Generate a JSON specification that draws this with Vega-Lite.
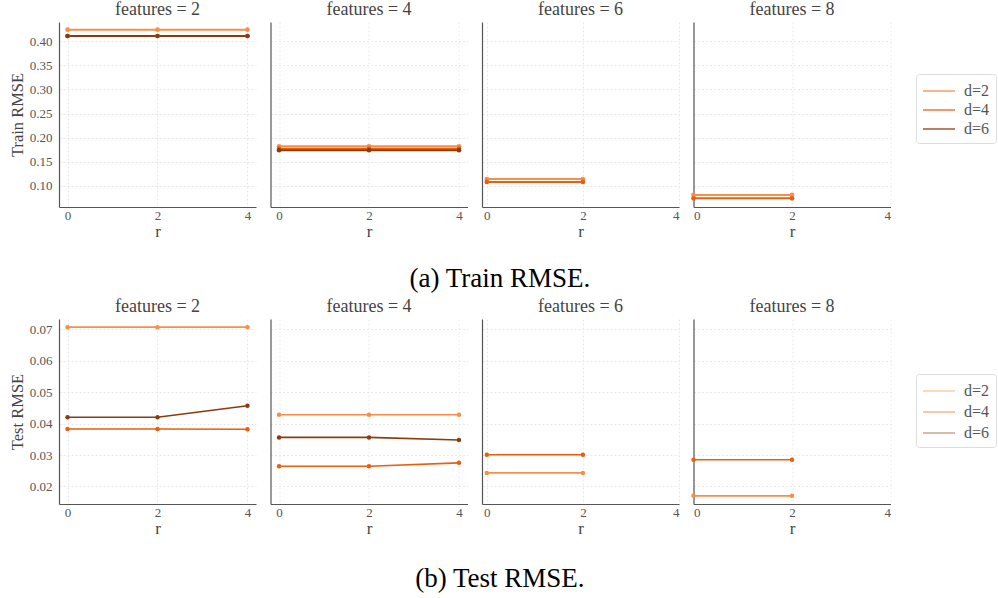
{
  "$schema": "https://vega.github.io/schema/vega-lite/v6.json",
  "padding": {"left": 9, "top": 1, "right": 5, "bottom": 5},
  "config": {
    "font": "Liberation Serif",
    "view": {"stroke": null},
    "axis": {
      "labelFont": "Liberation Serif", "labelFontSize": 13, "labelColor": "#555555",
      "titleFont": "Liberation Serif", "titleFontSize": 16.5, "titleFontWeight": "normal", "titleColor": "#444444",
      "domainColor": "#555555", "domainWidth": 1.2, "ticks": false, "labelPadding": 7,
      "gridColor": "#e3e3e3", "gridDash": [2, 2], "gridWidth": 0.8
    },
    "axisX": {"labelPadding": 2, "titlePadding": 1, "titleFontSize": 17},
    "title": {"font": "Liberation Serif", "fontWeight": "normal", "fontSize": 18, "color": "#444444", "offset": 3},
    "legend": {
      "title": null, "labelFont": "Liberation Serif", "labelFontSize": 16, "labelColor": "#555555",
      "symbolType": "M-1.6,0H1.6", "symbolSize": 400, "symbolStrokeWidth": 1.5, "symbolOffset": 6,
      "strokeColor": "#dddddd", "cornerRadius": 3, "fillColor": "white", "padding": 6,
      "rowPadding": 0, "labelOffset": 14
    }
  },
  "datasets": {
    "rows": [
      {"set": "train", "features": 2, "d": "d=2", "r": 0, "rmse": 0.424},
      {"set": "train", "features": 2, "d": "d=2", "r": 2, "rmse": 0.424},
      {"set": "train", "features": 2, "d": "d=2", "r": 4, "rmse": 0.424},
      {"set": "train", "features": 2, "d": "d=4", "r": 0, "rmse": 0.411},
      {"set": "train", "features": 2, "d": "d=4", "r": 2, "rmse": 0.411},
      {"set": "train", "features": 2, "d": "d=4", "r": 4, "rmse": 0.411},
      {"set": "train", "features": 2, "d": "d=6", "r": 0, "rmse": 0.411},
      {"set": "train", "features": 2, "d": "d=6", "r": 2, "rmse": 0.411},
      {"set": "train", "features": 2, "d": "d=6", "r": 4, "rmse": 0.411},
      {"set": "train", "features": 4, "d": "d=2", "r": 0, "rmse": 0.182},
      {"set": "train", "features": 4, "d": "d=2", "r": 2, "rmse": 0.182},
      {"set": "train", "features": 4, "d": "d=2", "r": 4, "rmse": 0.182},
      {"set": "train", "features": 4, "d": "d=4", "r": 0, "rmse": 0.177},
      {"set": "train", "features": 4, "d": "d=4", "r": 2, "rmse": 0.177},
      {"set": "train", "features": 4, "d": "d=4", "r": 4, "rmse": 0.177},
      {"set": "train", "features": 4, "d": "d=6", "r": 0, "rmse": 0.174},
      {"set": "train", "features": 4, "d": "d=6", "r": 2, "rmse": 0.174},
      {"set": "train", "features": 4, "d": "d=6", "r": 4, "rmse": 0.174},
      {"set": "train", "features": 6, "d": "d=2", "r": 0, "rmse": 0.114},
      {"set": "train", "features": 6, "d": "d=2", "r": 2, "rmse": 0.114},
      {"set": "train", "features": 6, "d": "d=4", "r": 0, "rmse": 0.108},
      {"set": "train", "features": 6, "d": "d=4", "r": 2, "rmse": 0.108},
      {"set": "train", "features": 8, "d": "d=2", "r": 0, "rmse": 0.081},
      {"set": "train", "features": 8, "d": "d=2", "r": 2, "rmse": 0.081},
      {"set": "train", "features": 8, "d": "d=4", "r": 0, "rmse": 0.074},
      {"set": "train", "features": 8, "d": "d=4", "r": 2, "rmse": 0.074},
      {"set": "test", "features": 2, "d": "d=2", "r": 0, "rmse": 0.0707},
      {"set": "test", "features": 2, "d": "d=2", "r": 2, "rmse": 0.0707},
      {"set": "test", "features": 2, "d": "d=2", "r": 4, "rmse": 0.0707},
      {"set": "test", "features": 2, "d": "d=4", "r": 0, "rmse": 0.0383},
      {"set": "test", "features": 2, "d": "d=4", "r": 2, "rmse": 0.0383},
      {"set": "test", "features": 2, "d": "d=4", "r": 4, "rmse": 0.0382},
      {"set": "test", "features": 2, "d": "d=6", "r": 0, "rmse": 0.0420},
      {"set": "test", "features": 2, "d": "d=6", "r": 2, "rmse": 0.0420},
      {"set": "test", "features": 2, "d": "d=6", "r": 4, "rmse": 0.0457},
      {"set": "test", "features": 4, "d": "d=2", "r": 0, "rmse": 0.0428},
      {"set": "test", "features": 4, "d": "d=2", "r": 2, "rmse": 0.0428},
      {"set": "test", "features": 4, "d": "d=2", "r": 4, "rmse": 0.0428},
      {"set": "test", "features": 4, "d": "d=4", "r": 0, "rmse": 0.0264},
      {"set": "test", "features": 4, "d": "d=4", "r": 2, "rmse": 0.0264},
      {"set": "test", "features": 4, "d": "d=4", "r": 4, "rmse": 0.0275},
      {"set": "test", "features": 4, "d": "d=6", "r": 0, "rmse": 0.0356},
      {"set": "test", "features": 4, "d": "d=6", "r": 2, "rmse": 0.0356},
      {"set": "test", "features": 4, "d": "d=6", "r": 4, "rmse": 0.0348},
      {"set": "test", "features": 6, "d": "d=2", "r": 0, "rmse": 0.0243},
      {"set": "test", "features": 6, "d": "d=2", "r": 2, "rmse": 0.0243},
      {"set": "test", "features": 6, "d": "d=4", "r": 0, "rmse": 0.0301},
      {"set": "test", "features": 6, "d": "d=4", "r": 2, "rmse": 0.0301},
      {"set": "test", "features": 8, "d": "d=2", "r": 0, "rmse": 0.0170},
      {"set": "test", "features": 8, "d": "d=2", "r": 2, "rmse": 0.0170},
      {"set": "test", "features": 8, "d": "d=4", "r": 0, "rmse": 0.0285},
      {"set": "test", "features": 8, "d": "d=4", "r": 2, "rmse": 0.0285}
    ]
  },
  "resolve": {"legend": {"color": "independent"}},
  "spacing": 6,
  "vconcat": [
    {
      "data": {"name": "rows"},
      "transform": [{"filter": "datum.set == 'train'"}],
      "title": {"text": "(a) Train RMSE.", "orient": "bottom", "anchor": "middle", "fontSize": 27, "color": "#000000", "offset": 27, "dx": -3},
      "spacing": 14.5,
      "bounds": "flush",
      "hconcat": [
        {
          "title": "features = 2", "width": 197, "height": 185,
          "transform": [{"filter": "datum.features == 2"}],
          "encoding": {
            "x": {"field": "r", "type": "quantitative", "scale": {"domain": [-0.19, 4.19], "nice": false, "zero": false}, "axis": {"values": [0, 2, 4], "format": "d", "title": "r"}},
            "y": {"field": "rmse", "type": "quantitative", "scale": {"domain": [0.056, 0.44], "nice": false, "zero": false}, "axis": {"values": [0.1, 0.15, 0.2, 0.25, 0.3, 0.35, 0.4], "format": ".2f", "title": "Train RMSE"}},
            "color": {"field": "d", "type": "nominal", "scale": {"domain": ["d=2", "d=4", "d=6"], "range": ["#f98e47", "#ea5f0e", "#8a3c0f"]}, "legend": {"orient": "none", "legendX": 857, "legendY": 52, "symbolOpacity": 0.85}}
          },
          "layer": [
            {"mark": {"type": "line", "strokeWidth": 2}},
            {"mark": {"type": "point", "filled": true, "size": 22, "opacity": 1}}
          ]
        },
        {
          "title": "features = 4", "width": 197, "height": 185,
          "transform": [{"filter": "datum.features == 4"}],
          "encoding": {
            "x": {"field": "r", "type": "quantitative", "scale": {"domain": [-0.19, 4.19], "nice": false, "zero": false}, "axis": {"values": [0, 2, 4], "format": "d", "title": "r"}},
            "y": {"field": "rmse", "type": "quantitative", "scale": {"domain": [0.056, 0.44], "nice": false, "zero": false}, "axis": {"values": [0.1, 0.15, 0.2, 0.25, 0.3, 0.35, 0.4], "labels": false, "title": null}},
            "color": {"field": "d", "type": "nominal", "scale": {"domain": ["d=2", "d=4", "d=6"], "range": ["#f98e47", "#ea5f0e", "#8a3c0f"]}, "legend": {"orient": "none", "legendX": 857, "legendY": 52, "symbolOpacity": 0.85}}
          },
          "layer": [
            {"mark": {"type": "line", "strokeWidth": 2}},
            {"mark": {"type": "point", "filled": true, "size": 22, "opacity": 1}}
          ]
        },
        {
          "title": "features = 6", "width": 197, "height": 185,
          "transform": [{"filter": "datum.features == 6"}],
          "encoding": {
            "x": {"field": "r", "type": "quantitative", "scale": {"domain": [-0.1, 4.0], "nice": false, "zero": false}, "axis": {"values": [0, 2, 4], "format": "d", "title": "r"}},
            "y": {"field": "rmse", "type": "quantitative", "scale": {"domain": [0.056, 0.44], "nice": false, "zero": false}, "axis": {"values": [0.1, 0.15, 0.2, 0.25, 0.3, 0.35, 0.4], "labels": false, "title": null}},
            "color": {"field": "d", "type": "nominal", "scale": {"domain": ["d=2", "d=4", "d=6"], "range": ["#f98e47", "#ea5f0e", "#8a3c0f"]}, "legend": {"orient": "none", "legendX": 857, "legendY": 52, "symbolOpacity": 0.85}}
          },
          "layer": [
            {"mark": {"type": "line", "strokeWidth": 2}},
            {"mark": {"type": "point", "filled": true, "size": 22, "opacity": 1}}
          ]
        },
        {
          "title": "features = 8", "width": 197, "height": 185,
          "transform": [{"filter": "datum.features == 8"}],
          "encoding": {
            "x": {"field": "r", "type": "quantitative", "scale": {"domain": [0, 4.0], "nice": false, "zero": false}, "axis": {"values": [0, 2, 4], "format": "d", "title": "r"}},
            "y": {"field": "rmse", "type": "quantitative", "scale": {"domain": [0.056, 0.44], "nice": false, "zero": false}, "axis": {"values": [0.1, 0.15, 0.2, 0.25, 0.3, 0.35, 0.4], "labels": false, "title": null}},
            "color": {"field": "d", "type": "nominal", "scale": {"domain": ["d=2", "d=4", "d=6"], "range": ["#f98e47", "#ea5f0e", "#8a3c0f"]}, "legend": {"orient": "none", "legendX": 857, "legendY": 52, "symbolOpacity": 0.85}}
          },
          "layer": [
            {"mark": {"type": "line", "strokeWidth": 2}},
            {"mark": {"type": "point", "filled": true, "size": 22, "opacity": 1}}
          ]
        }
      ]
    },
    {
      "data": {"name": "rows"},
      "transform": [{"filter": "datum.set == 'test'"}],
      "title": {"text": "(b) Test RMSE.", "orient": "bottom", "anchor": "middle", "fontSize": 27, "color": "#000000", "offset": 30, "dx": -3},
      "spacing": 14.5,
      "bounds": "flush",
      "hconcat": [
        {
          "title": "features = 2", "width": 197, "height": 185,
          "transform": [{"filter": "datum.features == 2"}],
          "encoding": {
            "x": {"field": "r", "type": "quantitative", "scale": {"domain": [-0.19, 4.19], "nice": false, "zero": false}, "axis": {"values": [0, 2, 4], "format": "d", "title": "r"}},
            "y": {"field": "rmse", "type": "quantitative", "scale": {"domain": [0.0144, 0.0733], "nice": false, "zero": false}, "axis": {"values": [0.02, 0.03, 0.04, 0.05, 0.06, 0.07], "format": ".2f", "title": "Test RMSE"}},
            "color": {"field": "d", "type": "nominal", "scale": {"domain": ["d=2", "d=4", "d=6"], "range": ["#f98e47", "#ea5f0e", "#8a3c0f"]}, "legend": {"orient": "none", "legendX": 857, "legendY": 55, "symbolOpacity": 0.45, "rowPadding": 2}}
          },
          "layer": [
            {"mark": {"type": "line", "strokeWidth": 1.6}},
            {"mark": {"type": "point", "filled": true, "size": 20, "opacity": 1}}
          ]
        },
        {
          "title": "features = 4", "width": 197, "height": 185,
          "transform": [{"filter": "datum.features == 4"}],
          "encoding": {
            "x": {"field": "r", "type": "quantitative", "scale": {"domain": [-0.19, 4.19], "nice": false, "zero": false}, "axis": {"values": [0, 2, 4], "format": "d", "title": "r"}},
            "y": {"field": "rmse", "type": "quantitative", "scale": {"domain": [0.0144, 0.0733], "nice": false, "zero": false}, "axis": {"values": [0.02, 0.03, 0.04, 0.05, 0.06, 0.07], "labels": false, "title": null}},
            "color": {"field": "d", "type": "nominal", "scale": {"domain": ["d=2", "d=4", "d=6"], "range": ["#f98e47", "#ea5f0e", "#8a3c0f"]}, "legend": {"orient": "none", "legendX": 857, "legendY": 55, "symbolOpacity": 0.45, "rowPadding": 2}}
          },
          "layer": [
            {"mark": {"type": "line", "strokeWidth": 1.6}},
            {"mark": {"type": "point", "filled": true, "size": 20, "opacity": 1}}
          ]
        },
        {
          "title": "features = 6", "width": 197, "height": 185,
          "transform": [{"filter": "datum.features == 6"}],
          "encoding": {
            "x": {"field": "r", "type": "quantitative", "scale": {"domain": [-0.1, 4.0], "nice": false, "zero": false}, "axis": {"values": [0, 2, 4], "format": "d", "title": "r"}},
            "y": {"field": "rmse", "type": "quantitative", "scale": {"domain": [0.0144, 0.0733], "nice": false, "zero": false}, "axis": {"values": [0.02, 0.03, 0.04, 0.05, 0.06, 0.07], "labels": false, "title": null}},
            "color": {"field": "d", "type": "nominal", "scale": {"domain": ["d=2", "d=4", "d=6"], "range": ["#f98e47", "#ea5f0e", "#8a3c0f"]}, "legend": {"orient": "none", "legendX": 857, "legendY": 55, "symbolOpacity": 0.45, "rowPadding": 2}}
          },
          "layer": [
            {"mark": {"type": "line", "strokeWidth": 1.6}},
            {"mark": {"type": "point", "filled": true, "size": 20, "opacity": 1}}
          ]
        },
        {
          "title": "features = 8", "width": 197, "height": 185,
          "transform": [{"filter": "datum.features == 8"}],
          "encoding": {
            "x": {"field": "r", "type": "quantitative", "scale": {"domain": [0, 4.0], "nice": false, "zero": false}, "axis": {"values": [0, 2, 4], "format": "d", "title": "r"}},
            "y": {"field": "rmse", "type": "quantitative", "scale": {"domain": [0.0144, 0.0733], "nice": false, "zero": false}, "axis": {"values": [0.02, 0.03, 0.04, 0.05, 0.06, 0.07], "labels": false, "title": null}},
            "color": {"field": "d", "type": "nominal", "scale": {"domain": ["d=2", "d=4", "d=6"], "range": ["#f98e47", "#ea5f0e", "#8a3c0f"]}, "legend": {"orient": "none", "legendX": 857, "legendY": 55, "symbolOpacity": 0.45, "rowPadding": 2}}
          },
          "layer": [
            {"mark": {"type": "line", "strokeWidth": 1.6}},
            {"mark": {"type": "point", "filled": true, "size": 20, "opacity": 1}}
          ]
        }
      ]
    }
  ]
}
